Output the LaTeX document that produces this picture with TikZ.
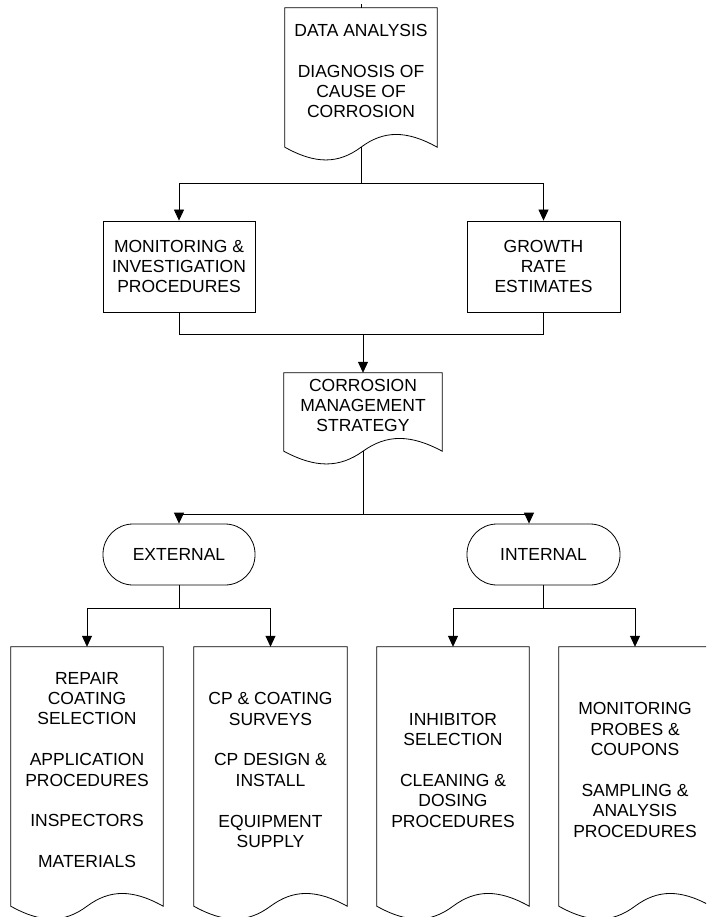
\documentclass[tikz,border=0pt]{standalone}
\usepackage{fontspec}
\setmainfont{Liberation Sans}
\usetikzlibrary{arrows.meta,calc}
\newcommand\docwave[1]{%
  \draw[shapeline] let \p1=(#1.north west), \p2=(#1.south east), \n1={\x2-\x1} in
   (\x1,\y1) -- (\x1,\y2-13pt)
   .. controls (\x1+0.2*\n1,\y2-30pt) and (\x1+0.35*\n1,\y2-30pt) .. (\x1+0.5*\n1,\y2-13pt)
   coordinate (#1-out)
   .. controls (\x1+0.65*\n1,\y2+4pt) and (\x1+0.8*\n1,\y2+4pt) .. (\x2,\y2-13pt)
   -- (\x2,\y1) -- cycle;}
\tikzset{
  shapeline/.style={draw=black,line width=0.8pt},
  txt/.style={font=\fontsize{17.5}{20.4}\selectfont,align=center,inner sep=0pt,text=black},
  docnode/.style={txt,minimum width=#1,rectangle},
  boxnode/.style={txt,shapeline,minimum width=152pt,minimum height=91pt},
  termnode/.style={txt,shapeline,minimum width=152pt,minimum height=61pt,rounded corners=30pt},
  conn/.style={draw=black,line width=0.8pt},
  arr/.style={conn,-{Triangle[length=11pt,width=10pt]}},
}
\begin{document}
\begin{tikzpicture}[x=1pt,y=-1pt]
\useasboundingbox (0,0) rectangle (706,917);
\clip (0,0) rectangle (706,917);
\fill[white] (0,0) rectangle (706,917);
% top document
\node[docnode=152pt,minimum height=126pt] (da) at (361,71)
  {DATA ANALYSIS\\[20.4pt]DIAGNOSIS OF\\CAUSE OF\\CORROSION};
\docwave{da}
\node[boxnode] (mon) at (179,266.5) {MONITORING \&\\INVESTIGATION\\PROCEDURES};
\node[boxnode,minimum width=153pt] (gro) at (543.5,266.5) {GROWTH\\RATE\\ESTIMATES};
\node[docnode=158pt,minimum height=65pt] (cms) at (363,405.5)
  {CORROSION\\MANAGEMENT\\STRATEGY};
\docwave{cms}
\node[termnode] (ext) at (179,554.5) {EXTERNAL};
\node[termnode,minimum width=153pt] (int) at (543.5,554.5) {INTERNAL};
\node[docnode=152pt,minimum height=246pt] (d1) at (87,770)
  {REPAIR\\COATING\\SELECTION\\[20.4pt]APPLICATION\\PROCEDURES\\[20.4pt]INSPECTORS\\[20.4pt]MATERIALS};
\docwave{d1}
\node[docnode=153pt,minimum height=246pt] (d2) at (270.5,770)
  {CP \& COATING\\SURVEYS\\[20.4pt]CP DESIGN \&\\INSTALL\\[20.4pt]EQUIPMENT\\SUPPLY};
\docwave{d2}
\node[docnode=152pt,minimum height=246pt] (d3) at (453,770)
  {INHIBITOR\\SELECTION\\[20.4pt]CLEANING \&\\DOSING\\PROCEDURES};
\docwave{d3}
\node[docnode=152pt,minimum height=246pt] (d4) at (635,770)
  {MONITORING\\PROBES \&\\COUPONS\\[20.4pt]SAMPLING \&\\ANALYSIS\\PROCEDURES};
\docwave{d4}
% connectors
\coordinate (in) at (361,4);
\draw[conn] (in) -- (da.north);
\coordinate (j1) at (361,183);
\draw[conn] (da-out) -- (j1);
\draw[arr] (j1) -| (mon.north);
\draw[arr] (j1) -| (gro.north);
\coordinate (j2) at (363,334);
\draw[conn] (mon.south) |- (j2);
\draw[conn] (gro.south) |- (j2);
\draw[arr] (j2) -- (cms.north);
\coordinate (j3) at (363,514);
\coordinate (j3r) at (529,514);
\draw[conn] (cms-out) -- (j3);
\draw[arr] (j3) -| (ext.north);
\draw[conn] (j3) -- (j3r);
\draw[arr] (j3r) -- (j3r |- int.north);
\coordinate (j4) at (179,608);
\draw[conn] (ext.south) -- (j4);
\draw[arr] (j4) -| (d1.north);
\draw[arr] (j4) -| (d2.north);
\coordinate (j5) at (543.5,608);
\draw[conn] (int.south) -- (j5);
\draw[arr] (j5) -| (d3.north);
\draw[arr] (j5) -| (d4.north);
\end{tikzpicture}
\end{document}
